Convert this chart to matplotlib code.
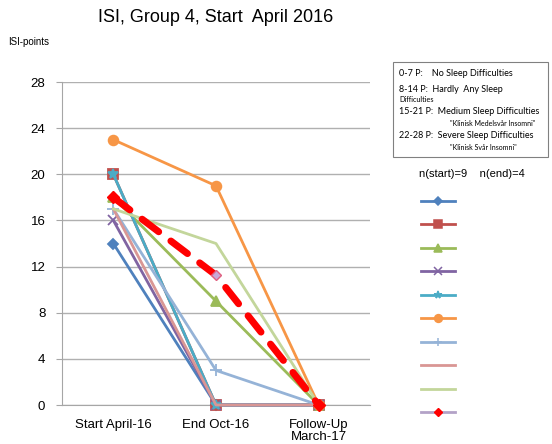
import matplotlib
matplotlib.use("Agg")
import matplotlib.pyplot as plt
from matplotlib.lines import Line2D
from matplotlib.patches import Rectangle

plt.rcParams['font.family'] = ['Liberation Sans', 'DejaVu Sans']

# data
categories = ["Start April-16", "End Oct-16", "Follow-Up\nMarch-17"]
p1 = [14, 0, 0]
p2 = [20, 0, 0]
p3 = [18, 9, 0]
p4 = [16, 0, 0]
p5 = [20, 0, 0]
p6 = [23, 19, 0]
p7 = [17, 3, 0]
p8 = [17, 0, 0]
p9 = [17, 14, 0]
mean_vals = [18, 11.25, 0]
yticks = [0, 4, 8, 12, 16, 20, 24, 28]

series = [p1, p2, p3, p4, p5, p6, p7, p8, p9]
colors = ['#4F81BD', '#C0504D', '#9BBB59', '#8064A2', '#4BACC6',
          '#F79646', '#95B3D7', '#D99694', '#C3D69B']
markers = ['D', 's', '^', 'x', '*', 'o', '+', None, None]
msizes = [5, 7, 7, 7, 7, 7, 8, 0, 0]

W, H = 552, 444
fig = plt.figure(figsize=(W / 100, H / 100), dpi=100)
ax = fig.add_axes([62 / W, 1 - 405 / H, (370 - 62) / W, (405 - 82) / H])

x = list(range(len(categories)))
handles = []
for vals, c, m, ms in zip(series, colors, markers, msizes):
    ax.plot(x, vals, color=c, lw=2, marker=m, ms=ms, mew=1.3,
            clip_on=False, zorder=3)
    handles.append(Line2D([], [], color=c, lw=2, marker=m, ms=ms * 0.8,
                          mew=1.1))

# mean line (red dashed)
ax.plot(x, mean_vals, color='red', lw=5, linestyle=(0, (3, 2.2)),
        dash_capstyle='round', clip_on=False, zorder=4)
ax.plot(x[::2], mean_vals[::2], linestyle='none', marker='D', ms=6,
        color='red', clip_on=False, zorder=5)
ax.plot(x[1:2], mean_vals[1:2], linestyle='none', marker='D', ms=5,
        mfc='#C9A8D8', mec='#E06080', clip_on=False, zorder=5)
handles.append(Line2D([], [], color='#B3A2C7', lw=2, marker='D', ms=4.5,
                      mfc='red', mec='red'))

ax.set_xlim(-0.5, 2.5)
ax.set_ylim(0, 28)
ax.set_yticks(yticks)
ax.set_xticks(x)
ax.set_xticklabels(categories, fontsize=9.5, linespacing=1.0)
ax.tick_params(axis='y', labelsize=9.5, length=4, color='#A6A6A6', pad=8)
ax.tick_params(axis='x', length=0, pad=10)
ax.yaxis.grid(True, color='#B0B0B0', lw=1)
ax.set_axisbelow(True)
for s in ['top', 'right']:
    ax.spines[s].set_visible(False)
for s in ['left', 'bottom']:
    ax.spines[s].set_color('#A6A6A6')

fig.text(216 / W, 1 - 18 / H, "ISI, Group 4, Start  April 2016",
         ha='center', va='center', fontsize=13)
fig.text(8 / W, 1 - 42 / H, "ISI-points", ha='left', va='center', fontsize=7)

# scale box
fig.patches.append(Rectangle((393 / W, 1 - 157 / H), 155 / W, 95 / H,
                             transform=fig.transFigure, fill=False,
                             ec='#808080', lw=0.8))
bx = 399 / W
box_lines = [
    (bx, 73, "0-7 P:    No Sleep Difficulties", 6.5),
    (bx, 89, "8-14 P:  Hardly  Any Sleep", 6.5),
    (bx, 100, "Difficulties", 5.2),
    (bx, 112, "15-21 P:  Medium Sleep Difficulties", 6.5),
    (450 / W, 123, "\"Klinisk Medelsvår Insomni\"", 5.0),
    (bx, 136, "22-28 P:  Severe Sleep Difficulties", 6.5),
    (450 / W, 148, "\"Klinisk Svår Insomni\"", 5.0),
]
for tx, ty, s, fs in box_lines:
    fig.text(tx, 1 - ty / H, s, ha='left', va='center', fontsize=fs,
             family=['Lato', 'DejaVu Sans'])

fig.text(419 / W, 1 - 174 / H, "n(start)=9    n(end)=4", ha='left',
         va='center', fontsize=8)
leg = fig.legend(handles, [''] * len(handles), loc='upper left',
                 bbox_to_anchor=(410 / W, 1 - 185 / H), frameon=False,
                 fontsize=9, handlelength=2.7, labelspacing=0.92,
                 handletextpad=0)

fig.savefig("out.png", dpi=100)
